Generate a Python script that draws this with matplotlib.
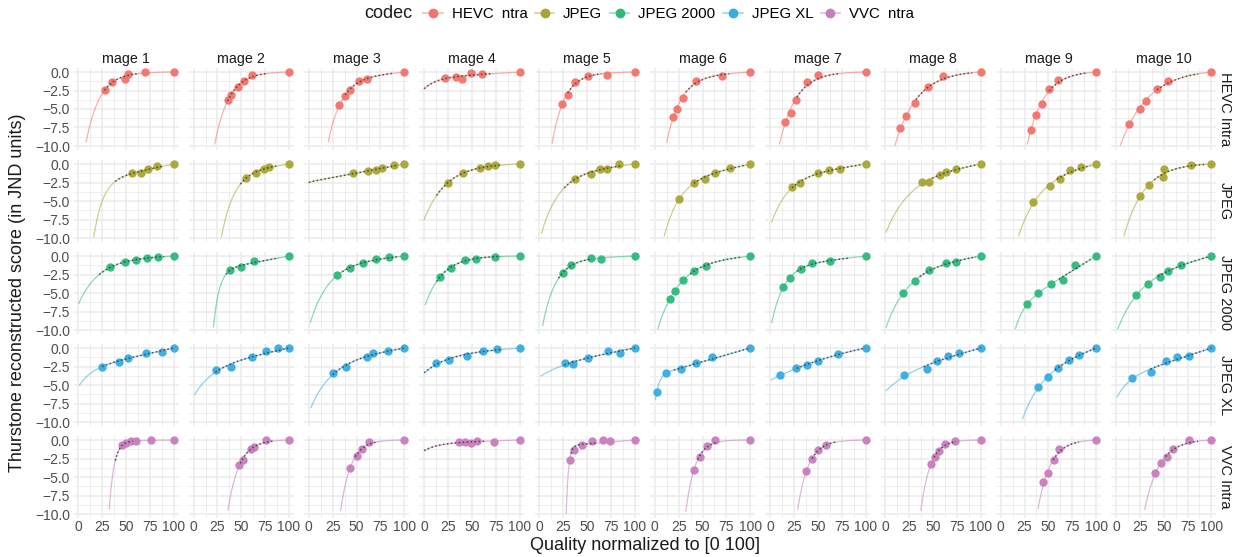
import numpy as np
import matplotlib.pyplot as plt
from matplotlib.lines import Line2D
from matplotlib.colors import to_rgb

plt.rcParams['font.family'] = ['Liberation Sans', 'DejaVu Sans']

codecs = ['HEVC Intra', 'JPEG', 'JPEG 2000', 'JPEG XL', 'VVC Intra']
legend_labels = ['HEVC  ntra', 'JPEG', 'JPEG 2000', 'JPEG XL', 'VVC  ntra']
images = ['mage %d' % i for i in range(1, 11)]
colors = ['#F2736B', '#A8A532', '#2DB97C', '#36ACE2', '#C87DBC']

# ---- HEVC Intra ----
hevc_x = [[27.5, 35.8, 49, 52.5, 70.4, 100], [35.6, 39.3, 46.9, 53, 61, 100],
          [31.7, 37.9, 43.3, 52.5, 60.8, 100], [21.8, 33.5, 39.3, 49.4, 61, 100],
          [23.8, 29.6, 37, 50.8, 70.4, 100], [18.8, 23.4, 29.3, 42.7, 70.3, 100],
          [15.4, 21.7, 27.1, 38.8, 50.4, 100], [15.5, 21.3, 31.4, 44.8, 60.7, 100],
          [31.7, 37, 43.3, 50.8, 60.4, 100], [13.4, 25.2, 31.5, 42.9, 55, 100]]
hevc_y = [[-2.45, -1.34, -0.88, -0.28, 0, 0], [-3.8, -3.1, -2.07, -1.2, -0.37, 0],
          [-4.4, -3.2, -2.44, -1.2, -0.92, 0], [-0.78, -0.69, -0.88, -0.18, -0.23, 0],
          [-4.33, -3.1, -1.38, -0.5, -0.41, 0], [-6.13, -5.0, -3.45, -1.2, -0.6, 0],
          [-6.7, -5.53, -3.78, -1.38, -0.46, 0], [-7.6, -6.0, -4.15, -2.07, -0.5, 0],
          [-7.9, -5.8, -4.33, -2.35, -1.06, 0], [-7.0, -5.0, -3.87, -2.3, -1.2, 0]]
hevc_start = [(8.3, -9.45), (22.2, -9.7), (20.4, -9.4), (0, -2.26), (13.3, -9.6),
              (12.6, -9.45), (10, -9.7), (10, -9.9), (27.9, -9.7), (4.6, -9.9)]
hevc_dotted = [(27.5, 62), (35.6, 76), (38, 89), (0, 72), (29.6, 65),
               (32.6, 78), (28, 72), (32, 91), (50.8, 90), (43, 86)]
hevc_guide = [[], [], [], [(10, -1.4)], [], [], [], [], [], []]

# ---- JPEG ----
jpeg_x = [[56.7, 65.8, 72.9, 82.9, 100], [54.4, 65.3, 73.6, 78.7, 100],
          [46.3, 61.7, 70.4, 77, 88.8, 100], [24.7, 41, 58.2, 66.5, 74, 100],
          [37, 53.8, 63.3, 70.4, 83.3, 100], [25.5, 41, 52.7, 62.8, 78.7, 100],
          [23, 31, 50.4, 61.7, 73.3, 100], [38, 46, 57.7, 63.2, 74, 100],
          [34.2, 51.3, 62.1, 73, 83.8, 100], [25.6, 34.9, 49.6, 50.8, 79, 100]]
jpeg_y = [[-1.2, -1.15, -0.69, -0.32, 0], [-1.93, -1.19, -0.69, -0.37, 0],
          [-1.28, -0.92, -0.78, -0.6, -0.18, 0], [-2.52, -1.24, -0.6, -0.32, -0.18, 0],
          [-2.0, -1.33, -0.64, -0.69, -0.05, 0], [-4.72, -2.52, -1.97, -1.19, -0.5, 0],
          [-3.17, -2.52, -1.19, -0.87, -0.69, 0], [-2.48, -2.48, -1.5, -1.1, -0.64, 0],
          [-5.1, -3.0, -2.06, -0.87, -0.37, 0], [-4.3, -2.9, -1.74, -0.64, -0.14, 0]]
jpeg_start = [(16.3, -9.8), (29.3, -9.77), (0, -2.5), (0, -7.5), (2.1, -9.36),
              (10, -9.7), (1.7, -7.84), (0.8, -9.2), (18.8, -9.7), (8.4, -9.7)]
jpeg_dotted = [(38.8, 89), (49, 89), (0, 93), (13, 80), (26, 85),
               (41, 95), (23, 95), (49, 95), (59, 94), (40, 94)]
jpeg_guide = [[] for _ in range(10)]

# ---- JPEG 2000 ----
j2k_x = [[33.3, 49, 60.8, 72, 83.8, 100], [37.7, 49.8, 63.6, 100],
         [29.6, 43.3, 56.3, 70, 84.2, 100], [16.3, 28, 43.1, 54, 74, 100],
         [24.2, 33.3, 54.2, 64.2, 100], [15.5, 21.3, 29.7, 40.6, 53.6, 100],
         [13.8, 21, 32.2, 44.4, 62.8, 100], [18.8, 31.4, 46, 63.6, 74, 100],
         [28, 39.3, 53.1, 64.9, 78.2, 100], [20.9, 33.9, 45.6, 54.8, 68.6, 100]]
j2k_y = [[-1.51, -0.87, -0.5, -0.23, -0.1, 0], [-1.93, -1.51, -0.64, 0],
         [-2.6, -1.56, -1.0, -0.46, -0.18, 0], [-2.84, -1.6, -0.5, -0.41, -0.1, 0],
         [-2.3, -1.28, -0.32, -0.37, 0], [-5.8, -4.7, -3.26, -1.97, -1.33, 0],
         [-4.17, -2.98, -1.7, -1.0, -0.69, 0], [-4.95, -3.35, -1.93, -1.0, -0.83, 0],
         [-6.5, -5.0, -3.77, -3.2, -1.24, 0], [-5.3, -3.72, -2.8, -1.97, -1.15, 0]]
j2k_start = [(0.5, -6.4), (20.9, -9.55), (1.7, -8.9), (1.25, -6.55), (3.3, -9.4),
             (3.3, -9.8), (1.7, -9.0), (0.8, -9.6), (15.5, -9.8), (2.1, -9.8)]
j2k_dotted = [(22, 90), (34, 89), (35, 93), (13, 80), (20, 55),
              (37, 91), (28, 83), (36, 95), (61, 94), (44, 96)]
j2k_guide = [[] for _ in range(10)]

# ---- JPEG XL ----
jxl_x = [[24.6, 42.5, 52.5, 71.3, 87.5, 100], [23.4, 38.9, 61.5, 76.2, 88.3, 100],
         [25.4, 38.7, 60.8, 66.7, 82.5, 100], [12.6, 25.5, 44.4, 61.5, 76.6, 100],
         [26.7, 35.4, 50.8, 72, 84.5, 100], [2.1, 12.1, 27.2, 43.5, 60.3, 100],
         [10, 27.6, 38.5, 50.6, 71.5, 100], [20, 43.1, 54, 65.7, 77, 100],
         [38.9, 49.8, 59.8, 71.5, 82.4, 100], [16.3, 37.2, 52.3, 63.6, 76.6, 100]]
jxl_y = [[-2.5, -1.86, -1.36, -0.68, -0.5, 0], [-3.0, -2.5, -1.27, -0.45, -0.05, 0],
         [-3.4, -2.55, -1.27, -0.64, -0.45, 0], [-2.0, -1.6, -1.05, -0.36, -0.09, 0],
         [-2.05, -2.14, -1.41, -0.36, -0.68, 0], [-5.9, -3.4, -2.86, -2.09, -1.23, 0],
         [-3.6, -2.73, -2.36, -1.73, -0.77, 0], [-3.6, -2.82, -1.82, -1.09, -0.68, 0],
         [-5.3, -3.95, -2.73, -1.64, -0.91, 0], [-4.1, -3.27, -1.82, -1.23, -1.09, 0]]
jxl_start = [(1.25, -5.0), (1.25, -6.27), (2.1, -8.05), (1.25, -3.23), (1.7, -3.77),
             (0.8, -6.9), (1.25, -4.3), (0.8, -5.77), (23, -9.55), (1.25, -6.6)]
jxl_dotted = [(25, 100), (23, 100), (25, 100), (0, 80), (26, 100),
              (20, 100), (28, 100), (40, 100), (57, 100), (36, 100)]
jxl_guide = [[] for _ in range(10)]

# ---- VVC Intra ----
vvc_x = [[45.8, 50.4, 55, 60.8, 75.8, 100], [47.3, 51.9, 60.3, 63.6, 76.2, 100],
         [43.3, 50.4, 55.4, 62.5, 100], [36, 42.7, 49.4, 55.6, 73.2, 100],
         [31.5, 36.5, 45, 55, 66.5, 73.6, 100], [41, 47.3, 55.2, 63.2, 100],
         [38, 44.4, 50.6, 58.6, 100], [47.3, 52.3, 56.5, 62, 73.2, 100],
         [44.8, 49.8, 56.1, 60.7, 100], [41, 47.3, 53.6, 59.8, 76.2, 100]]
vvc_y = [[-0.73, -0.46, -0.09, -0.14, 0, 0], [-3.44, -2.75, -1.28, -0.92, 0, 0],
         [-3.8, -2.1, -1.15, -0.32, 0], [-0.28, -0.32, -0.37, -0.14, -0.23, 0],
         [-2.7, -1.38, -0.73, -0.18, 0, -0.14, 0], [-4.0, -2.3, -0.78, 0, 0],
         [-4.17, -2.57, -1.38, -0.64, 0], [-3.26, -2.34, -1.42, -0.5, -0.18, 0],
         [-5.7, -4.4, -2.75, -1.2, 0], [-4.45, -3.12, -2.34, -1.15, 0, 0]]
vvc_start = [(32.5, -9.3), (36, -9.5), (33.3, -9.5), (0.5, -1.4), (28, -9.9),
             (32.6, -9.6), (28.9, -9.36), (37.2, -9.5), (39.3, -9.2), (30.1, -9.36)]
vvc_dotted = [(38.8, 57), (49, 84), (48.8, 72.5), (0, 63), (33, 60),
              (45, 66), (44, 70), (51, 74), (55, 82), (52, 86)]
vvc_guide = [[], [], [], [(10, -0.95), (20, -0.55)], [], [], [], [], [], []]

all_x = [hevc_x, jpeg_x, j2k_x, jxl_x, vvc_x]
all_y = [hevc_y, jpeg_y, j2k_y, jxl_y, vvc_y]
all_start = [hevc_start, jpeg_start, j2k_start, jxl_start, vvc_start]
all_dotted = [hevc_dotted, jpeg_dotted, j2k_dotted, jxl_dotted, vvc_dotted]
all_guide = [hevc_guide, jpeg_guide, j2k_guide, jxl_guide, vvc_guide]


def fit_curve(px, py, start, guide):
    # y = -a*(exp(b*(100-x)) - 1) - c*(100-x), a, c >= 0
    gx = [g[0] for g in guide]
    gy = [g[1] for g in guide]
    d = 100 - np.concatenate([px, gx, [start[0]]])
    y = np.concatenate([py, gy, [start[1]]])
    w = np.ones_like(d)
    w[len(px):] = 2.0
    w[-1] = 4.0
    best = None
    for b in np.geomspace(0.002, 1.0, 500):
        f1 = -(np.expm1(b * d))
        f2 = -d
        cands = []
        A = np.column_stack([f1, f2]) * w[:, None]
        coef = np.linalg.lstsq(A, y * w, rcond=None)[0]
        if coef.min() >= 0:
            cands.append(coef)
        for k, f in enumerate([f1, f2]):
            fw = f * w
            cc = max(0.0, np.dot(fw, y * w) / np.dot(fw, fw))
            co = np.zeros(2)
            co[k] = cc
            cands.append(co)
        for co in cands:
            err = np.sum((w * (co[0] * f1 + co[1] * f2 - y)) ** 2)
            if best is None or err < best[0]:
                best = (err, b, co)
    _, b, (a, c) = best
    return lambda x: -a * np.expm1(b * (100 - x)) - c * (100 - x)


W, H = 1239, 557
fig = plt.figure(figsize=(W / 100, H / 100), dpi=100)

left0, col_step, pw = 73.5, 115.3, 105
top0, row_step, ph = 68.3, 92, 81.4
grid_c = '#EBEBEB'
tick_c = '#4D4D4D'

for r in range(5):
    for c in range(10):
        ax = fig.add_axes([(left0 + c * col_step) / W,
                           1 - (top0 + r * row_step + ph) / H,
                           pw / W, ph / H])
        ax.set_xlim(-5, 105)
        ax.set_ylim(-10.5, 0.5)
        ax.set_xticks([0, 25, 50, 75, 100])
        ax.set_xticks([12.5, 37.5, 62.5, 87.5], minor=True)
        ax.set_yticks([-10, -7.5, -5, -2.5, 0])
        ax.set_yticks([-8.75, -6.25, -3.75, -1.25], minor=True)
        ax.grid(which='major', color=grid_c, lw=1.1)
        ax.grid(which='minor', color=grid_c, lw=0.6)
        ax.set_axisbelow(True)
        for s in ax.spines.values():
            s.set_visible(False)
        ax.tick_params(which='both', length=0, labelsize=10, labelcolor=tick_c)
        ax.tick_params(axis='x', pad=2)
        ax.tick_params(axis='y', pad=2.5)
        if c == 0:
            ax.set_yticklabels(['−10.0', '−7.5', '−5.0', '−2.5', '0.0'])
        else:
            ax.set_yticklabels([])
        if r == 4:
            ax.set_xticklabels(['0', '25', '50', '75', '100'])
        else:
            ax.set_xticklabels([])

        px = np.array(all_x[r][c], dtype=float)
        py = np.array(all_y[r][c], dtype=float)
        st = all_start[r][c]
        f = fit_curve(px, py, st, all_guide[r][c])
        xx = np.linspace(st[0], 100, 300)
        ax.plot(xx, f(xx), color=colors[r], lw=0.9, alpha=0.55, zorder=2)
        ax.scatter(px, py, s=36, color=colors[r], alpha=0.95, linewidths=0, zorder=3)
        lo, hi = all_dotted[r][c]
        xd = np.linspace(lo, hi, 120)
        ax.plot(xd, f(xd), color='#3A3A3A', lw=1.1, ls=(0, (1, 1.6)), alpha=0.85, zorder=4)

        if r == 0:
            ax.set_title(images[c], fontsize=10.3, color='#1A1A1A', pad=4)
        if c == 9:
            ax.text(1.015, 0.5, codecs[r], transform=ax.transAxes, rotation=-90,
                    va='center', ha='left', fontsize=10.5, color='#1A1A1A')

fig.text(645 / W, 1 - 546 / H, 'Quality normalized to [0 100]', ha='center', va='center',
         fontsize=13, color='#1A1A1A')
fig.text(18 / W, 1 - 293 / H, 'Thurstone reconstructed score (in JND units)', ha='center',
         va='center', rotation=90, fontsize=13, color='#1A1A1A')

# legend
fig.text(364 / W, 1 - 14 / H, 'codec', ha='left', va='center', fontsize=13, color='#1A1A1A')
handles = []
for col in colors:
    light = tuple(0.5 * v + 0.5 for v in to_rgb(col))
    handles.append(Line2D([0], [0], color=light, lw=1.2, marker='o', markersize=6,
                          markerfacecolor=col, markeredgecolor=col))
fig.legend(handles, legend_labels, loc='center left', bbox_to_anchor=(423 / W, 1 - 14 / H),
           ncol=5, frameon=False, fontsize=10.8, handlelength=1.3, handletextpad=0.6,
           columnspacing=0.5, borderaxespad=0, borderpad=0)

fig.savefig('out.png', dpi=100)
